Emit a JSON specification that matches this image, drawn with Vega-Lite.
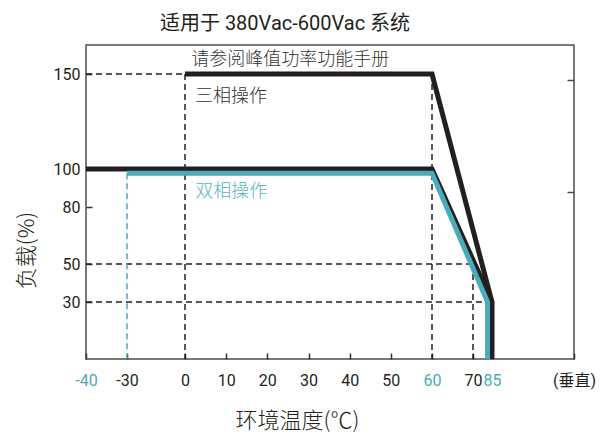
{
  "$schema": "https://vega.github.io/schema/vega-lite/v6.json",
  "width": 488,
  "height": 314,
  "autosize": {"type": "none"},
  "padding": {"left": 86, "top": 45, "right": 38, "bottom": 77},
  "background": "white",
  "config": {
    "view": {"stroke": "#4d4d4d", "strokeWidth": 1.5},
    "axis": {"grid": false, "domain": false, "tickColor": "#333333", "tickWidth": 1.5}
  },
  "title": {
    "text": "适用于 380Vac-600Vac 系统",
    "fontSize": 20,
    "font": "Roboto, Noto Sans CJK SC",
    "fontWeight": "normal",
    "color": "#231f20",
    "anchor": "middle",
    "dx": -45,
    "offset": 11
  },
  "datasets": {
    "dash": [
      {"x1": -40, "x2": 0, "y1": 150, "y2": 150, "c": "k"},
      {"x1": 0, "x2": 0, "y1": 150, "y2": 0, "c": "k"},
      {"x1": 60, "x2": 60, "y1": 150, "y2": 0, "c": "k"},
      {"x1": -40, "x2": 70, "y1": 50, "y2": 50, "c": "k"},
      {"x1": 70, "x2": 70, "y1": 50, "y2": 0, "c": "k"},
      {"x1": -40, "x2": 81.5, "y1": 30, "y2": 30, "c": "k"},
      {"x1": -30, "x2": -30, "y1": 97.8, "y2": 0, "c": "c"}
    ],
    "lines": [
      {"s": "A", "c": "k", "x": 0, "y": 150, "o": 1},
      {"s": "A", "c": "k", "x": 60, "y": 150, "o": 2},
      {"s": "A", "c": "k", "x": 85, "y": 30, "o": 3},
      {"s": "A", "c": "k", "x": 85, "y": 0, "o": 4},
      {"s": "B", "c": "k", "x": -40, "y": 100, "o": 1},
      {"s": "B", "c": "k", "x": 60, "y": 100, "o": 2},
      {"s": "B", "c": "k", "x": 85, "y": 30, "o": 3},
      {"s": "C", "c": "c", "x": -30, "y": 97.8, "o": 1},
      {"s": "C", "c": "c", "x": 60, "y": 97.8, "o": 2},
      {"s": "C", "c": "c", "x": 81.5, "y": 30, "o": 3},
      {"s": "C", "c": "c", "x": 81.5, "y": 0, "o": 4}
    ],
    "notes": [
      {"x": 1.5, "y": 157.4, "t": "请参阅峰值功率功能手册", "c": "kt"},
      {"x": 2.4, "y": 138, "t": "三相操作", "c": "kt"},
      {"x": 2.5, "y": 88, "t": "双相操作", "c": "ct"}
    ]
  },
  "layer": [
    {
      "data": {"name": "dash"},
      "mark": {"type": "rule", "strokeDash": [6, 4], "strokeWidth": 1.5},
      "encoding": {
        "x": {
          "field": "x1", "type": "quantitative",
          "scale": {"domain": [-40, -30, 0, 60, 70, 85, 100], "range": [0, 41, 99, 346, 387, 406, 488], "nice": false, "zero": false},
          "axis": {
            "values": [-40, -30, 0, 10, 20, 30, 40, 50, 60, 70, 85, 100],
            "labelExpr": "datum.value == 100 ? '(垂直)' : '' + datum.value",
            "title": "环境温度(℃)",
            "titleX": 211, "titleY": 61,
            "titleAlign": "center", "titleBaseline": "middle",
            "titleFontSize": 22, "titleFont": "Noto Sans CJK SC", "titleFontWeight": 300, "titleColor": "#231f20",
            "tickSize": -6, "labelPadding": 19,
            "labelFontSize": 16, "labelFont": "Roboto, Noto Sans CJK SC",
            "labelColor": {"condition": {"test": "datum.value == -40 || datum.value == 60 || datum.value == 85", "value": "#4aabb9"}, "value": "#231f20"},
            "labelFlush": false, "labelOverlap": false, "labelBound": false
          }
        },
        "x2": {"field": "x2"},
        "y": {
          "field": "y1", "type": "quantitative",
          "scale": {"domain": [0, 165.3], "nice": false, "zero": false},
          "axis": {
            "values": [30, 50, 80, 100, 150],
            "tickSize": -6, "labelPadding": 12,
            "labelFontSize": 16, "labelFont": "Roboto", "labelColor": "#231f20",
            "title": "负载(%)",
            "titleX": -60, "titleY": 205, "titleAngle": 270,
            "titleAlign": "center", "titleBaseline": "middle",
            "titleFontSize": 22, "titleFont": "Noto Sans CJK SC", "titleFontWeight": 300, "titleColor": "#231f20"
          }
        },
        "y2": {"field": "y2"},
        "color": {"field": "c", "type": "nominal", "scale": {"domain": ["k", "c", "kt", "ct"], "range": ["#231f20", "#4aabb9", "#333333", "#5ab4c4"]}, "legend": null}
      }
    },
    {
      "data": {"name": "lines"},
      "mark": {"type": "line", "strokeWidth": 5, "strokeJoin": "miter", "strokeCap": "butt"},
      "encoding": {
        "x": {"field": "x", "type": "quantitative"},
        "y": {"field": "y", "type": "quantitative", "axis": null},
        "detail": {"field": "s"},
        "order": {"field": "o"},
        "color": {"field": "c", "type": "nominal", "legend": null}
      }
    },
    {
      "data": {"name": "notes"},
      "mark": {"type": "text", "align": "left", "baseline": "middle", "fontSize": 18, "font": "Noto Sans CJK SC", "fontWeight": 300},
      "encoding": {
        "x": {"field": "x", "type": "quantitative"},
        "y": {
          "field": "y", "type": "quantitative",
          "axis": {"orient": "right", "values": [146.8, 88], "labels": false, "tickSize": -7, "title": null, "tickColor": "#4d4d4d"}
        },
        "text": {"field": "t"},
        "color": {"field": "c", "type": "nominal", "legend": null}
      }
    }
  ],
  "resolve": {"axis": {"y": "independent"}}
}
